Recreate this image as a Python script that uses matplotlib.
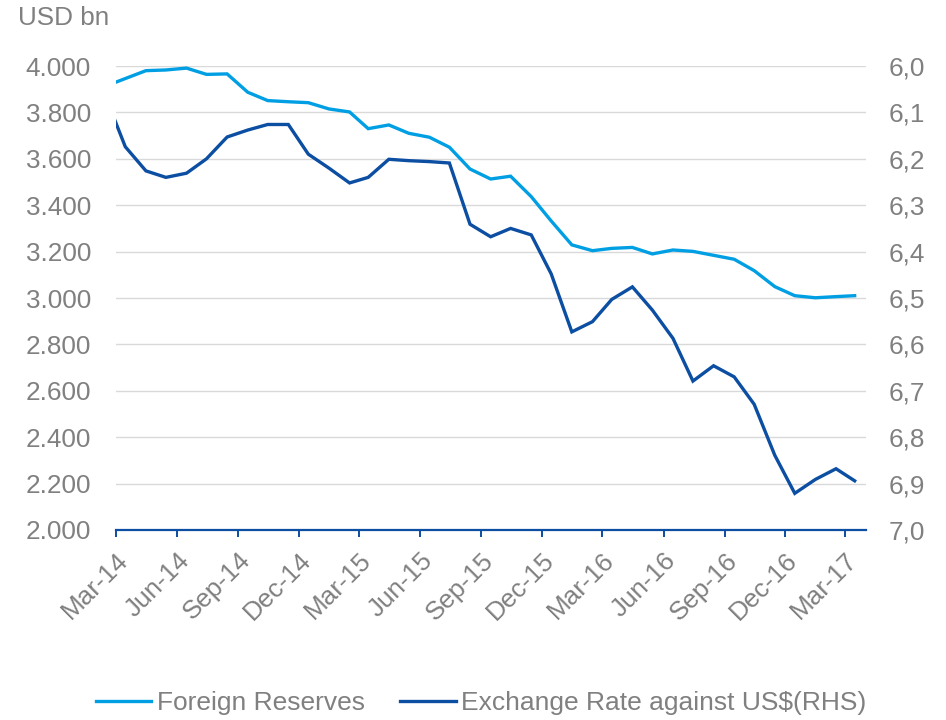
import matplotlib.pyplot as plt
import matplotlib.dates as mdates
import matplotlib.ticker as mticker
import pandas as pd

plt.rcParams['font.family'] = ['Liberation Sans', 'DejaVu Sans']

# monthly observations Feb-14 .. Mar-17, plotted mid-month (Feb-14 falls left of the axis)
months = pd.date_range('2014-02-01', '2017-03-01', freq='MS') + pd.Timedelta(days=14)

reserves = [3915, 3946, 3980, 3983, 3991, 3964, 3966, 3887, 3851, 3846, 3842,
            3815, 3802, 3730, 3746, 3710, 3693, 3650, 3556, 3513, 3525, 3437,
            3332, 3229, 3204, 3214, 3218, 3190, 3207, 3201, 3184, 3167, 3118,
            3049, 3010, 3001, 3006, 3010]

fx_rate = [6.072, 6.174, 6.226, 6.240, 6.231, 6.200, 6.153, 6.138, 6.126, 6.126,
           6.190, 6.220, 6.252, 6.240, 6.201, 6.204, 6.206, 6.209, 6.341, 6.368,
           6.350, 6.364, 6.448, 6.573, 6.551, 6.503, 6.476, 6.526, 6.587, 6.679,
           6.646, 6.670, 6.729, 6.839, 6.921, 6.891, 6.868, 6.894]

grey = '#808080'
light_blue = '#009FE3'
dark_blue = '#0B4EA2'
fs = 18.8

fig = plt.figure(figsize=(9.46, 7.2), dpi=100)
fig.subplots_adjust(left=0.1226, right=0.9154, bottom=0.2639, top=0.9083)
ax = fig.add_subplot(111)
ax2 = ax.twinx()

l1, = ax.plot(months, reserves, color=light_blue, lw=2.4, label='Foreign Reserves',
              solid_joinstyle='miter')
l2, = ax2.plot(months, fx_rate, color=dark_blue, lw=2.4,
               label='Exchange Rate against US$(RHS)', solid_joinstyle='miter')

# left axis
ax.set_ylim(2000, 4000)
ax.yaxis.set_major_locator(mticker.MultipleLocator(200))
ax.yaxis.set_major_formatter(mticker.FuncFormatter(lambda v, p: f'{v:,.0f}'.replace(',', '.')))
ax.grid(axis='y', color='#D9D9D9', lw=1.0)
ax.set_axisbelow(True)

# right axis, inverted
ax2.set_ylim(7.0, 6.0)
ax2.yaxis.set_major_locator(mticker.MultipleLocator(0.1))
ax2.yaxis.set_major_formatter(mticker.FuncFormatter(lambda v, p: f'{v:.1f}'.replace('.', ',')))

# x axis
ax.set_xlim(pd.Timestamp('2014-03-01'), pd.Timestamp('2017-04-01'))
ax.xaxis.set_major_locator(mdates.MonthLocator(bymonth=[3, 6, 9, 12]))
ax.xaxis.set_major_formatter(mdates.DateFormatter('%b-%y'))

for a in (ax, ax2):
    for s in a.spines.values():
        s.set_visible(False)
ax.spines['bottom'].set_visible(True)
ax.spines['bottom'].set_color(dark_blue)
ax.spines['bottom'].set_linewidth(1.6)

ax.tick_params(axis='x', colors=dark_blue, direction='out', length=5, width=1.4,
               labelcolor=grey, labelsize=fs, pad=8)
ax.tick_params(axis='y', length=0, labelcolor=grey, labelsize=fs, pad=18)
ax2.tick_params(axis='y', length=0, labelcolor=grey, labelsize=fs, pad=16)
for lbl in ax.get_xticklabels():
    lbl.set_rotation(45)
    lbl.set_ha('right')
    lbl.set_va('top')
    lbl.set_rotation_mode('anchor')

fig.text(18 / 946, 1 - 18 / 720, 'USD bn', color=grey, fontsize=fs, va='center')

leg = fig.legend(handles=[l1, l2], loc='center', bbox_to_anchor=(0.5085, 1 - 703 / 720),
                 ncol=2, frameon=False, fontsize=19, handlelength=2.1,
                 handletextpad=0.2, columnspacing=1.35, borderpad=0)
for t in leg.get_texts():
    t.set_color(grey)

fig.savefig('out.png', dpi=100)
